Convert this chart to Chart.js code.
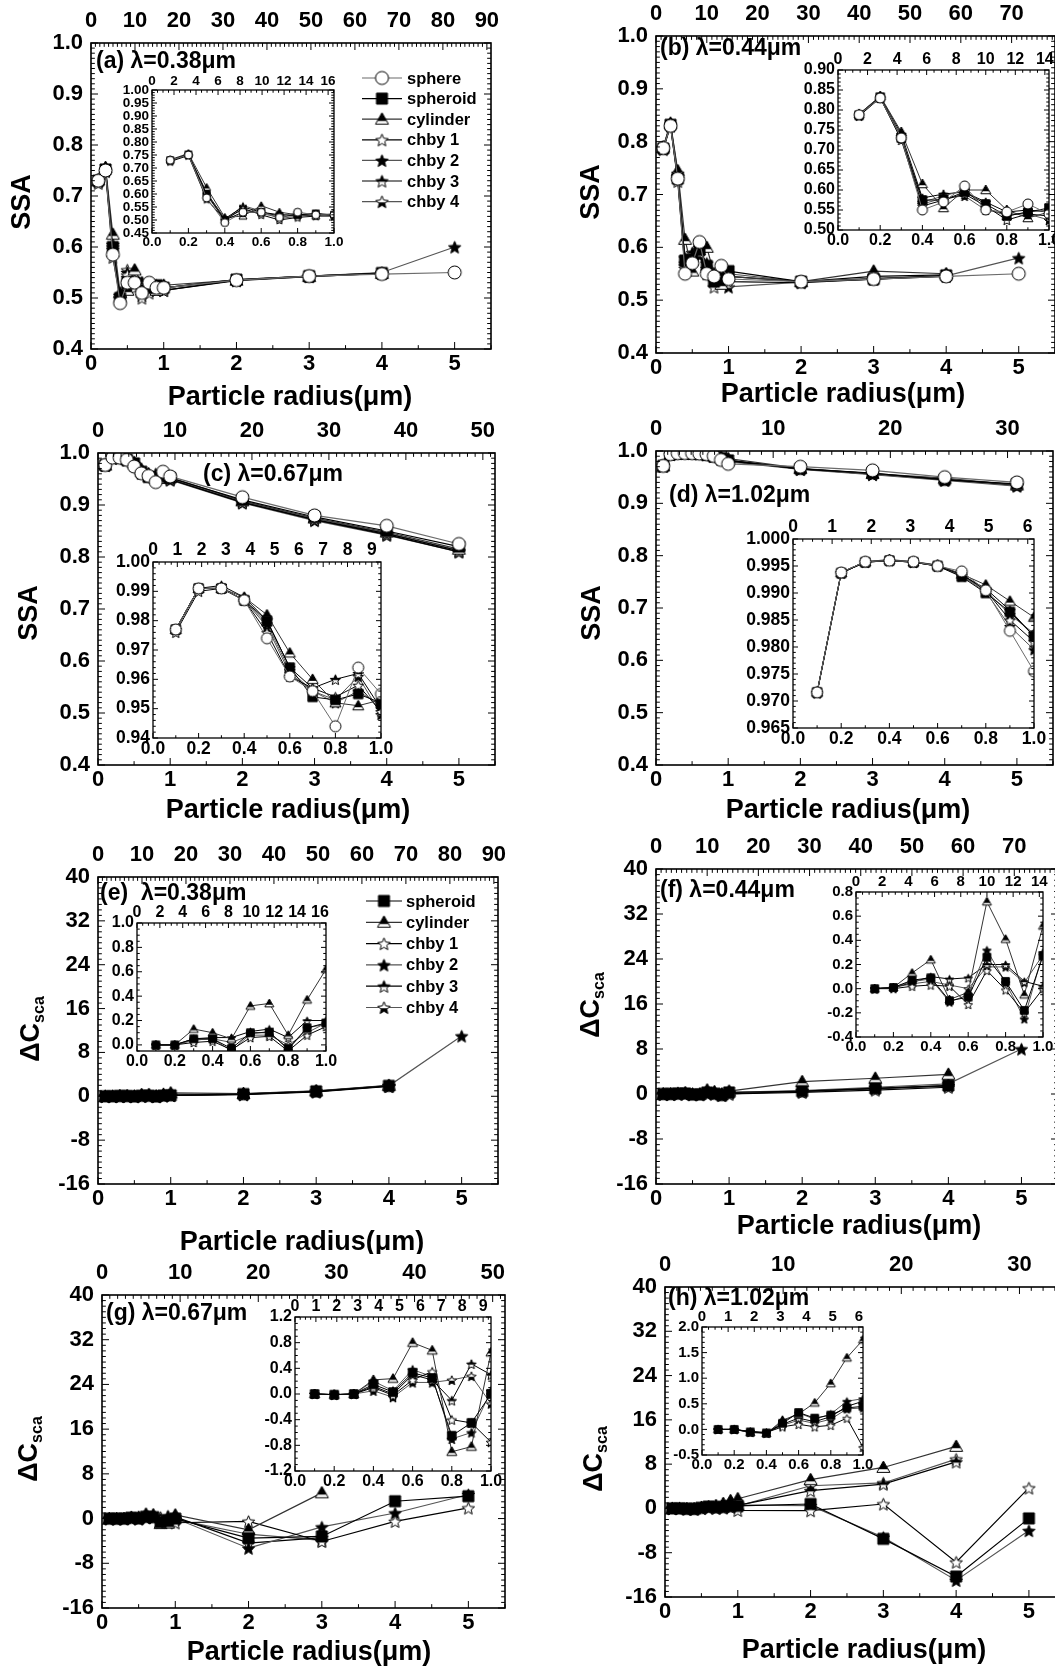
<!DOCTYPE html>
<html>
<head>
<meta charset="utf-8">
<script src="https://cdn.jsdelivr.net/npm/chart.js@4.4.1/dist/chart.umd.min.js"></script>
<style>
  html, body { margin: 0; padding: 0; background: #fff; overflow: hidden; }
  #page { position: relative; width: 1055px; height: 1672px; overflow: hidden; background: #fff; }
  #page canvas { position: absolute; }
</style>
</head>
<body>
<div id="page"></div>
<script>
// ---- data ------------------------------------------------------------
const radius = [0.1, 0.2, 0.3, 0.4, 0.5, 0.6, 0.7, 0.8, 0.9, 1.0, 2, 3, 4, 5];
const shapes = ['sphere', 'spheroid', 'cylinder', 'chby 1', 'chby 2', 'chby 3', 'chby 4'];
const wavelengths = [0.38, 0.44, 0.67, 1.02];

// SSA, rows = sphere, spheroid, cylinder, chby 1..4
const ssa038 = [
  [0.730, 0.750, 0.585, 0.490, 0.530, 0.530, 0.510, 0.530, 0.520, 0.520, 0.535, 0.543, 0.547, 0.550],
  [0.730, 0.752, 0.600, 0.500, 0.530, 0.530, 0.515, 0.520, 0.525, 0.520, 0.536, 0.543, 0.549, null],
  [0.732, 0.756, 0.625, 0.510, 0.515, 0.555, 0.530, 0.520, 0.515, 0.525, 0.535, 0.542, 0.548, null],
  [0.725, 0.748, 0.580, 0.500, 0.545, 0.520, 0.500, 0.510, 0.515, 0.515, 0.534, 0.542, 0.548, null],
  [0.730, 0.750, 0.600, 0.505, 0.540, 0.525, 0.510, 0.520, 0.520, 0.520, 0.536, 0.543, 0.550, 0.600],
  [0.730, 0.752, 0.605, 0.505, 0.550, 0.530, 0.520, 0.520, 0.525, 0.515, 0.535, 0.543, 0.549, null],
  [0.728, 0.750, 0.595, 0.500, 0.555, 0.535, 0.505, 0.515, 0.520, 0.520, 0.535, 0.543, 0.548, null]
];
const ssa044 = [
  [0.788, 0.830, 0.730, 0.550, 0.570, 0.610, 0.550, 0.545, 0.565, 0.540, 0.535, 0.540, 0.545, 0.550],
  [0.787, 0.832, 0.730, 0.575, 0.575, 0.595, 0.565, 0.535, 0.545, 0.555, 0.535, 0.540, 0.547, null],
  [0.790, 0.835, 0.745, 0.615, 0.555, 0.600, 0.600, 0.550, 0.530, 0.545, 0.535, 0.555, 0.550, null],
  [0.785, 0.830, 0.725, 0.560, 0.575, 0.590, 0.560, 0.525, 0.540, 0.535, 0.533, 0.540, 0.545, null],
  [0.788, 0.832, 0.735, 0.570, 0.585, 0.600, 0.555, 0.535, 0.545, 0.550, 0.535, 0.542, 0.546, 0.580],
  [0.790, 0.833, 0.740, 0.580, 0.590, 0.595, 0.570, 0.545, 0.550, 0.545, 0.535, 0.545, 0.548, null],
  [0.788, 0.830, 0.730, 0.565, 0.580, 0.585, 0.550, 0.540, 0.540, 0.525, 0.534, 0.540, 0.546, null]
];
const ssa067 = [
  [0.977, 0.991, 0.991, 0.987, 0.974, 0.961, 0.956, 0.944, 0.964, 0.955, 0.915, 0.880, 0.860, 0.825],
  [0.977, 0.991, 0.991, 0.987, 0.980, 0.964, 0.954, 0.953, 0.955, 0.952, 0.910, 0.877, 0.850, 0.820],
  [0.977, 0.991, 0.991, 0.988, 0.982, 0.969, 0.960, 0.952, 0.951, 0.953, 0.908, 0.875, 0.848, 0.815],
  [0.976, 0.990, 0.991, 0.987, 0.976, 0.961, 0.957, 0.954, 0.958, 0.949, 0.905, 0.872, 0.845, 0.812],
  [0.977, 0.991, 0.991, 0.987, 0.979, 0.963, 0.956, 0.952, 0.956, 0.951, 0.907, 0.874, 0.846, 0.813],
  [0.977, 0.991, 0.992, 0.988, 0.980, 0.964, 0.957, 0.960, 0.962, 0.950, 0.906, 0.872, 0.843, 0.810],
  [0.977, 0.991, 0.991, 0.987, 0.978, 0.962, 0.956, 0.953, 0.961, 0.948, 0.904, 0.870, 0.842, 0.810]
];
const ssa102 = [
  [0.9716, 0.9938, 0.9958, 0.9960, 0.9958, 0.9950, 0.9940, 0.9905, 0.9830, 0.9755, 0.970, 0.963, 0.950, 0.940],
  [0.9716, 0.9937, 0.9957, 0.9960, 0.9957, 0.9950, 0.9930, 0.9900, 0.9865, 0.9820, 0.966, 0.958, 0.945, 0.937],
  [0.9717, 0.9938, 0.9958, 0.9962, 0.9958, 0.9952, 0.9935, 0.9915, 0.9885, 0.9855, 0.967, 0.957, 0.948, 0.935],
  [0.9715, 0.9937, 0.9957, 0.9960, 0.9957, 0.9950, 0.9935, 0.9905, 0.9850, 0.9810, 0.966, 0.957, 0.946, 0.936],
  [0.9715, 0.9937, 0.9957, 0.9960, 0.9957, 0.9950, 0.9932, 0.9902, 0.9838, 0.9795, 0.965, 0.955, 0.944, 0.933],
  [0.9716, 0.9938, 0.9958, 0.9961, 0.9958, 0.9951, 0.9933, 0.9908, 0.9868, 0.9820, 0.966, 0.956, 0.946, 0.934],
  [0.9716, 0.9938, 0.9958, 0.9960, 0.9957, 0.9950, 0.9932, 0.9905, 0.9860, 0.9825, 0.966, 0.956, 0.945, 0.935]
];

// delta C_sca, rows = spheroid, cylinder, chby 1..4
const dc038 = [
  [0, 0, 0.05, 0.05, -0.03, 0.10, 0.10, -0.03, 0.14, 0.18, 0.40, 0.90, 1.90, null],
  [0, 0, 0.13, 0.10, 0.05, 0.32, 0.34, 0.08, 0.37, 0.62, 0.50, 1.00, 2.00, null],
  [0, 0, 0.02, 0.03, -0.04, 0.06, 0.07, -0.05, 0.08, 0.15, 0.30, 0.80, 1.80, null],
  [0, 0, 0.04, 0.05, -0.05, 0.09, 0.11, -0.04, 0.14, 0.17, 0.40, 0.90, 1.90, 11.0],
  [0, 0, 0.05, 0.06, 0.06, 0.11, 0.13, 0.06, 0.20, 0.20, 0.45, 0.95, 1.95, null],
  [0, 0, 0.04, 0.05, 0.02, 0.08, 0.08, 0.00, 0.10, 0.18, 0.35, 0.85, 1.85, null]
];
const dc044 = [
  [0, 0.01, 0.07, 0.09, -0.10, -0.07, 0.26, 0.06, -0.18, 0.27, 0.5, 1.0, 1.5, null],
  [0, 0.01, 0.13, 0.24, -0.09, -0.03, 0.72, 0.41, -0.05, 0.52, 2.2, 2.8, 3.5, null],
  [0, 0.00, 0.02, 0.03, 0.02, -0.13, 0.15, -0.01, -0.20, 0.00, 0.3, 0.7, 1.2, null],
  [0, 0.01, 0.06, 0.08, -0.11, -0.05, 0.32, 0.05, -0.25, 0.30, 0.6, 1.2, 1.8, 8.0],
  [0, 0.01, 0.05, 0.10, 0.08, 0.09, 0.20, 0.20, 0.06, 0.02, 0.5, 1.0, 1.5, null],
  [0, 0.01, 0.04, 0.06, 0.03, 0.00, 0.18, 0.18, 0.05, 0.28, 0.4, 0.9, 1.4, null]
];
const dc067 = [
  [0, -0.01, 0.00, 0.15, 0.03, 0.33, 0.25, -0.65, -0.45, 0.00, -3.5, -3.2, 3.1, 4.0],
  [0, -0.01, 0.00, 0.22, 0.24, 0.80, 0.68, -0.90, -0.82, 0.65, -2.0, 4.6, null, null],
  [0, -0.01, 0.00, 0.10, -0.02, 0.22, 0.35, -0.40, -0.45, -0.75, -0.5, -4.1, -0.5, 1.9],
  [0, -0.01, 0.00, 0.20, 0.05, 0.38, 0.27, -0.70, -0.60, 0.05, -5.3, -1.5, 1.0, 4.3],
  [0, -0.01, 0.00, 0.12, 0.00, 0.30, 0.22, -0.10, 0.47, 0.30, -4.4, -3.4, null, null],
  [0, -0.01, 0.00, 0.05, -0.05, 0.18, 0.18, 0.22, 0.28, -0.15, -2.8, -3.9, null, null]
];
const dc102 = [
  [0, 0, -0.05, -0.07, 0.12, 0.33, 0.22, 0.28, 0.42, 0.45, 0.8, -5.5, -12.3, -1.8],
  [0, 0, -0.06, -0.08, 0.18, 0.30, 0.52, 0.90, 1.40, 1.75, 5.2, 7.4, 11.2, null],
  [0, 0, -0.04, -0.06, 0.05, 0.10, 0.05, 0.08, 0.22, -0.35, -0.4, 0.8, -9.7, 3.7],
  [0, 0, -0.05, -0.07, 0.15, 0.32, 0.20, 0.30, 0.55, 0.60, 0.5, -5.2, -13.0, -4.0],
  [0, 0, -0.05, -0.07, 0.10, 0.22, 0.15, 0.25, 0.45, 0.55, 3.2, 4.4, 8.4, null],
  [0, 0, -0.05, -0.06, 0.08, 0.18, 0.12, 0.20, 0.40, 0.42, 4.1, 4.6, 8.9, null]
];

// axis ranges [min, max, step]
const radiusTicks = [0, 5.5, 1];
const insetRadiusTicks = [0, 1.0, 0.2];
const ssaTicks = [0.4, 1.0, 0.1];
const dcTicks = [-16, 40, 8];
const ssaInsetA = [0.45, 1.00, 0.05];
const ssaInsetB = [0.50, 0.90, 0.05];
const ssaInsetC = [0.94, 1.00, 0.01];
const ssaInsetD = [0.965, 1.000, 0.005];
const dcInsetE = [-0.05, 1.0, 0.2];
const dcInsetF = [-0.4, 0.8, 0.2];
const dcInsetG = [-1.2, 1.2, 0.4];
const dcInsetH = [-0.5, 2.0, 0.5];
const sizeParamSteps = [2, 2, 1, 1]; // top axis of insets (size parameter)

// ---- drawing helpers ---------------------------------------------------
const FONT = "'Liberation Sans', Arial, Helvetica, sans-serif";
const lineColors = ['#6b6b6b', '#000', '#333', '#000', '#555', '#000', '#555'];
const markerKinds = ['circle', 'square', 'tri', 'starO', 'starF', 'starT', 'starB'];
const page = document.getElementById('page');

function makeMarker(kind, size) {
  const s = Math.ceil(size + 4);
  const c = document.createElement('canvas');
  c.width = s; c.height = s;
  const g = c.getContext('2d');
  const m = s / 2, R = size / 2;
  g.lineWidth = 1;
  g.strokeStyle = '#000';
  const path = () => {
    g.beginPath();
    if (kind === 'circle') g.arc(m, m, R, 0, Math.PI * 2);
    else if (kind === 'square') g.rect(m - R * 0.85, m - R * 0.85, R * 1.7, R * 1.7);
    else if (kind === 'tri') {
      g.moveTo(m, m - R); g.lineTo(m + R, m + R * 0.75); g.lineTo(m - R, m + R * 0.75); g.closePath();
    } else {
      for (let i = 0; i < 10; i++) {
        const a = -Math.PI / 2 + i * Math.PI / 5;
        const r = i % 2 ? R * 0.45 : R;
        g.lineTo(m + r * Math.cos(a), m + 0.8 + r * Math.sin(a));
      }
      g.closePath();
    }
  };
  const mode = {circle: 'white', square: 'black', tri: 'top', starO: 'white', starF: 'black', starT: 'top', starB: 'bottom'}[kind];
  path();
  g.fillStyle = mode === 'black' ? '#000' : '#fff';
  g.fill();
  if (mode === 'top' || mode === 'bottom') {
    const cut = kind === 'tri' ? m + R * 0.25 : m + 0.8;
    g.save();
    g.beginPath();
    if (mode === 'top') g.rect(0, 0, s, cut); else g.rect(0, cut, s, s);
    g.clip();
    path();
    g.fillStyle = '#000';
    g.fill();
    g.restore();
  }
  path();
  g.stroke();
  return c;
}

const markerCache = {};
function marker(kind, size) {
  const k = kind + size;
  if (!markerCache[k]) markerCache[k] = makeMarker(kind, size);
  return markerCache[k];
}

// box frame with inward ticks on all four sides
function framePlugin(o) {
  return {
    id: 'frame',
    beforeDatasetsDraw(chart) {
      if (!o.inset) return;
      const {ctx, chartArea: a} = chart;
      ctx.save();
      ctx.fillStyle = '#fff';
      ctx.fillRect(a.left, a.top, a.right - a.left, a.bottom - a.top);
      ctx.restore();
    },
    afterDraw(chart) {
      const {ctx, chartArea: a, scales} = chart;
      const marks = (sc, step, minor) => {
        const out = [];
        const k = Math.round(step / minor);
        for (let i = Math.ceil(sc.min / minor - 1e-6); i * minor <= sc.max + 1e-9; i++) {
          out.push([sc.getPixelForValue(i * minor), i % k === 0]);
        }
        return out;
      };
      ctx.save();
      ctx.strokeStyle = '#000';
      ctx.lineWidth = 1;
      ctx.beginPath();
      marks(scales.x, o.x[2], o.xMinor).forEach(([p, big]) => {
        ctx.moveTo(p, a.bottom); ctx.lineTo(p, a.bottom - (big ? o.tick : o.tick * 0.55));
      });
      marks(scales.xTop, o.top, o.topMinor).forEach(([p, big]) => {
        ctx.moveTo(p, a.top); ctx.lineTo(p, a.top + (big ? o.tick : o.tick * 0.55));
      });
      marks(scales.y, o.y[2], o.yMinor).forEach(([p, big]) => {
        const l = big ? o.tick : o.tick * 0.55;
        ctx.moveTo(a.left, p); ctx.lineTo(a.left + l, p);
        ctx.moveTo(a.right, p); ctx.lineTo(a.right - l, p);
      });
      ctx.stroke();
      ctx.lineWidth = o.frameW;
      ctx.strokeRect(a.left, a.top, a.right - a.left, a.bottom - a.top);
      ctx.restore();
    }
  };
}

// panel label, axis titles and legend, placed in page coordinates
function notesPlugin(o) {
  return {
    id: 'notes',
    afterDraw(chart) {
      const ctx = chart.ctx;
      const ox = o.box[0], oy = o.box[1];
      ctx.save();
      ctx.fillStyle = '#000';
      ctx.textBaseline = 'middle';
      (o.texts || []).forEach(t => {
        const parts = t.parts || [[t.text, t.size, 0]];
        ctx.save();
        ctx.translate(t.x - ox, t.y - oy);
        if (t.rot) ctx.rotate(t.rot);
        let w = 0;
        parts.forEach(p => { ctx.font = `bold ${p[1]}px ${FONT}`; w += ctx.measureText(p[0]).width; });
        let x = t.align === 'center' ? -w / 2 : 0;
        parts.forEach(p => {
          ctx.font = `bold ${p[1]}px ${FONT}`;
          ctx.fillText(p[0], x, p[2]);
          x += ctx.measureText(p[0]).width;
        });
        ctx.restore();
      });
      const lg = o.legend;
      if (lg) {
        lg.rows.forEach((s, i) => {
          const y = lg.y0 + i * lg.dy - oy;
          ctx.strokeStyle = lineColors[s];
          ctx.lineWidth = 1.2;
          ctx.beginPath();
          ctx.moveTo(lg.x1 - ox, y); ctx.lineTo(lg.x2 - ox, y);
          ctx.stroke();
          const img = marker(markerKinds[s], 13);
          ctx.drawImage(img, lg.mx - ox - img.width / 2, y - img.height / 2);
          ctx.font = `bold 16.5px ${FONT}`;
          ctx.textAlign = 'left';
          ctx.fillText(shapes[s], lg.tx - ox, y + 1);
        });
      }
      ctx.restore();
    }
  };
}

function addChart(o) {
  const [ox, oy, w, h] = o.box;
  const [L, T, R, B] = o.area;
  const cv = document.createElement('canvas');
  cv.width = w; cv.height = h;
  cv.style.left = ox + 'px';
  cv.style.top = oy + 'px';
  cv.style.zIndex = o.inset ? 3 : 1;
  page.appendChild(cv);

  const n = o.inset ? 10 : radius.length;
  const datasets = o.rows.map((row, k) => {
    const s = o.shapeIdx[k];
    const pts = [];
    for (let i = 0; i < n; i++) if (row[i] !== null) pts.push({x: radius[i], y: row[i]});
    return {
      label: shapes[s], data: pts, xAxisID: 'x', yAxisID: 'y',
      borderColor: lineColors[s], borderWidth: o.lw, tension: 0, fill: false,
      pointStyle: marker(markerKinds[s], o.ms), pointRadius: o.ms / 2, pointHoverRadius: o.ms / 2
    };
  });

  const font = {family: FONT, size: o.fs, weight: 'bold'};
  const plain = {grid: {display: false, drawTicks: false}, border: {display: false}};
  const tk = (step, digits, pad) => ({
    stepSize: step, includeBounds: false, autoSkip: false, maxRotation: 0, minRotation: 0,
    font, color: '#000', padding: pad, callback: v => Number(v).toFixed(digits)
  });

  new Chart(cv, {
    type: 'line',
    data: {datasets},
    options: {
      responsive: false, animation: false, devicePixelRatio: 1, events: [],
      layout: {padding: {left: 0, top: 0, bottom: 0, right: ox + w - R}},
      plugins: {legend: {display: false}, tooltip: {enabled: false}},
      scales: {
        x: {...plain, type: 'linear', position: 'bottom', min: o.x[0], max: o.x[1],
            ticks: tk(o.x[2], o.xd, o.pad[1]), afterFit: s => { s.height = oy + h - B; }},
        xTop: {...plain, type: 'linear', axis: 'x', position: 'top', min: 0, max: 2 * Math.PI * o.x[1] / o.lambda,
            ticks: tk(o.top, 0, o.pad[2]), afterFit: s => { s.height = T - oy; }},
        y: {...plain, type: 'linear', position: 'left', min: o.y[0], max: o.y[1],
            ticks: tk(o.y[2], o.yd, o.pad[0]), afterFit: s => { s.width = L - ox; }}
      }
    },
    plugins: [framePlugin(o), notesPlugin(o)]
  });
}

function mainPanel(p) {
  addChart(Object.assign({
    inset: false, x: radiusTicks, xd: 0, xMinor: 0.5, top: 10, topMinor: 1,
    fs: 22, ms: 13, lw: 1.2, frameW: 1.6, tick: 7, pad: [8, 2, 9]
  }, p));
}

function insetPanel(p) {
  const [L, T, R, B] = p.area;
  const lw = Math.round(p.fs * 3.2), th = Math.round(p.fs * 1.6), rw = 20;
  addChart(Object.assign({
    inset: true, x: insetRadiusTicks, xd: 1, xMinor: 0.1, topMinor: p.top / 4,
    lw: 1, frameW: 1.3, tick: 5, pad: [3, 1, 1],
    box: [L - lw, T - th, R - L + lw + rw, B - T + th * 2]
  }, p));
}

const allSsa = [0, 1, 2, 3, 4, 5, 6];
const allDc = [1, 2, 3, 4, 5, 6];
const ssaTitle = t => ({text: 'SSA', size: 27, x: t[0], y: t[1], rot: -Math.PI / 2, align: 'center'});
const dcTitle = t => ({parts: [['\u0394C', 27, 0], ['sca', 16, 8]], x: t[0], y: t[1], rot: -Math.PI / 2, align: 'center'});
const xTitle = t => ({text: 'Particle radius(\u03bcm)', size: 27, x: t[0], y: t[1], align: 'center'});
const label = (s, t) => ({text: s, size: 23, x: t[0], y: t[1], align: 'left'});

// ---- main panels ----------------------------------------------------
mainPanel({box: [0, 0, 527, 418], area: [91, 43, 491, 349], lambda: wavelengths[0], rows: ssa038, shapeIdx: allSsa,
  y: ssaTicks, yd: 1, yMinor: 0.01,
  texts: [label('(a) \u03bb=0.38\u03bcm', [96, 62]), ssaTitle([23, 202]), xTitle([290, 398])],
  legend: {rows: allSsa, x1: 362, x2: 402, mx: 382, tx: 407, y0: 78, dy: 20.6}});
mainPanel({box: [528, 0, 540, 418], area: [656, 36, 1055, 353], lambda: wavelengths[1], rows: ssa044, shapeIdx: allSsa,
  y: ssaTicks, yd: 1, yMinor: 0.01,
  texts: [label('(b) \u03bb=0.44\u03bcm', [660, 49]), ssaTitle([592, 192]), xTitle([843, 395])]});
mainPanel({box: [0, 418, 527, 418], area: [98, 453, 495, 765], lambda: wavelengths[2], rows: ssa067, shapeIdx: allSsa,
  y: ssaTicks, yd: 1, yMinor: 0.01,
  texts: [label('(c) \u03bb=0.67\u03bcm', [203, 475]), ssaTitle([30, 613]), xTitle([288, 811])]});
mainPanel({box: [528, 418, 540, 418], area: [656, 451, 1053, 765], lambda: wavelengths[3], rows: ssa102, shapeIdx: allSsa,
  y: ssaTicks, yd: 1, yMinor: 0.01,
  texts: [label('(d) \u03bb=1.02\u03bcm', [669, 496]), ssaTitle([593, 613]), xTitle([848, 811])]});
mainPanel({box: [0, 836, 527, 418], area: [98, 877, 498, 1184], lambda: wavelengths[0], rows: dc038, shapeIdx: allDc,
  y: dcTicks, yd: 0, yMinor: 1,
  texts: [label('(e)  \u03bb=0.38\u03bcm', [100, 894]), dcTitle([32, 1029]), xTitle([302, 1243])],
  legend: {rows: allDc, x1: 366, x2: 402, mx: 384, tx: 406, y0: 901, dy: 21.3}});
mainPanel({box: [528, 836, 540, 418], area: [656, 869, 1058, 1184], lambda: wavelengths[1], rows: dc044, shapeIdx: allDc,
  y: dcTicks, yd: 0, yMinor: 1,
  texts: [label('(f) \u03bb=0.44\u03bcm', [660, 891]), dcTitle([592, 1005]), xTitle([859, 1227])]});
mainPanel({box: [0, 1254, 527, 418], area: [102, 1295, 505, 1608], lambda: wavelengths[2], rows: dc067, shapeIdx: allDc,
  y: dcTicks, yd: 0, yMinor: 1,
  texts: [label('(g) \u03bb=0.67\u03bcm', [106, 1314]), dcTitle([30, 1449]), xTitle([309, 1653])]});
mainPanel({box: [528, 1254, 545, 418], area: [665, 1287, 1066, 1597], lambda: wavelengths[3], rows: dc102, shapeIdx: allDc,
  y: dcTicks, yd: 0, yMinor: 1,
  texts: [label('(h) \u03bb=1.02\u03bcm', [668, 1299]), dcTitle([595, 1459]), xTitle([864, 1651])]});

// ---- insets ---------------------------------------------------------
insetPanel({area: [152, 90, 334, 233], lambda: wavelengths[0], rows: ssa038, shapeIdx: allSsa, y: ssaInsetA, yd: 2, yMinor: 0.01, top: sizeParamSteps[0], fs: 13.5, ms: 8});
insetPanel({area: [838, 70, 1049, 230], lambda: wavelengths[1], rows: ssa044, shapeIdx: allSsa, y: ssaInsetB, yd: 2, yMinor: 0.01, top: sizeParamSteps[1], fs: 16, ms: 10});
insetPanel({area: [153, 562, 381, 738], lambda: wavelengths[2], rows: ssa067, shapeIdx: allSsa, y: ssaInsetC, yd: 2, yMinor: 0.002, top: sizeParamSteps[2], fs: 17.5, ms: 11});
insetPanel({area: [793, 539, 1034, 728], lambda: wavelengths[3], rows: ssa102, shapeIdx: allSsa, y: ssaInsetD, yd: 3, yMinor: 0.001, top: sizeParamSteps[3], fs: 17.5, ms: 11});
insetPanel({area: [137, 923, 326, 1051], lambda: wavelengths[0], rows: dc038, shapeIdx: allDc, y: dcInsetE, yd: 1, yMinor: 0.05, top: sizeParamSteps[0], fs: 16, ms: 9});
insetPanel({area: [856, 892, 1043, 1037], lambda: wavelengths[1], rows: dc044, shapeIdx: allDc, y: dcInsetF, yd: 1, yMinor: 0.05, top: sizeParamSteps[1], fs: 15, ms: 9});
insetPanel({area: [295, 1317, 491, 1471], lambda: wavelengths[2], rows: dc067, shapeIdx: allDc, y: dcInsetG, yd: 1, yMinor: 0.1, top: sizeParamSteps[2], fs: 16, ms: 10});
insetPanel({area: [702, 1327, 863, 1455], lambda: wavelengths[3], rows: dc102, shapeIdx: allDc, y: dcInsetH, yd: 1, yMinor: 0.1, top: sizeParamSteps[3], fs: 15, ms: 9});
</script>
</body>
</html>
